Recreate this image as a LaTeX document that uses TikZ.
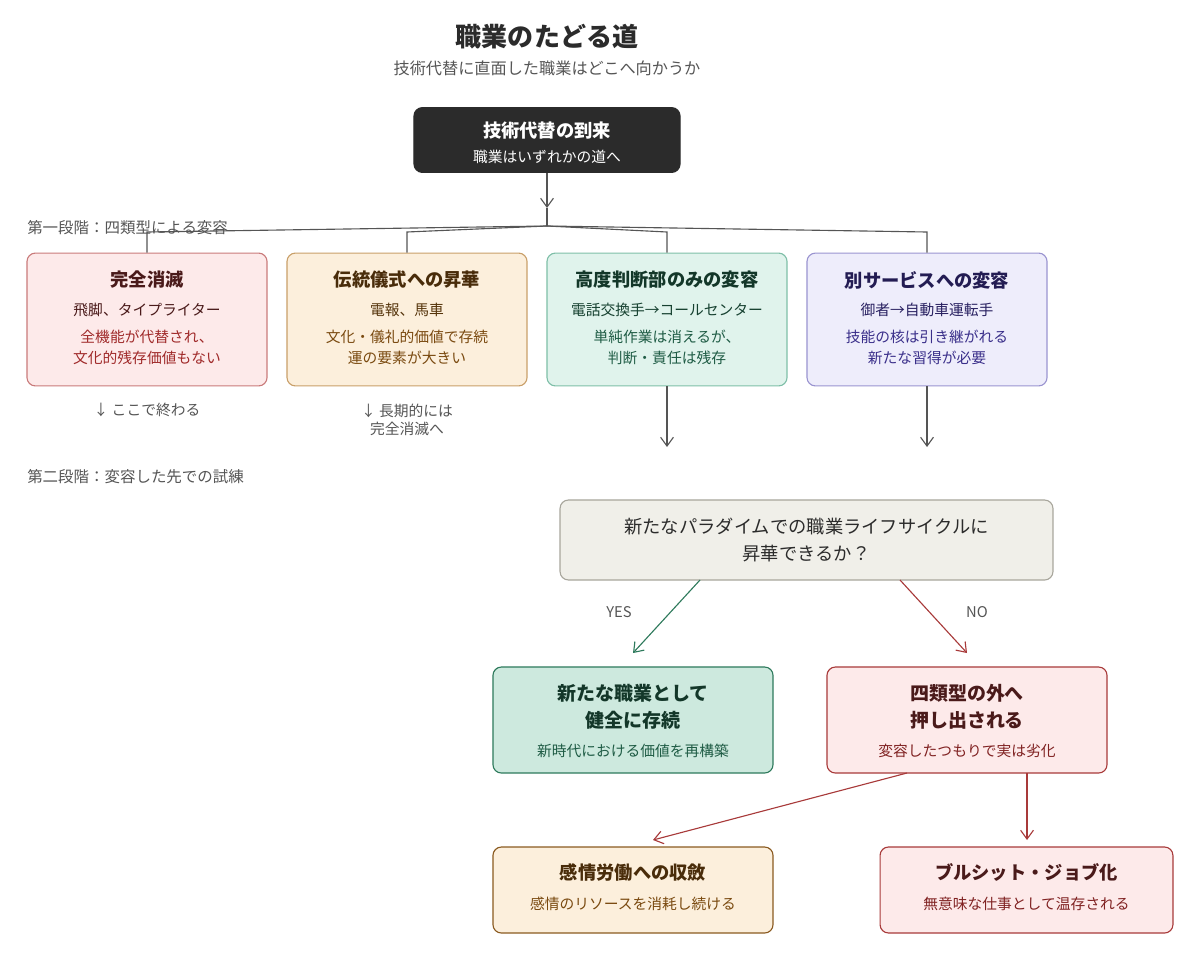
\documentclass[tikz,border=0pt]{standalone}
\usepackage{fontspec}
\setmainfont{Noto Sans CJK JP}
\usetikzlibrary{arrows.meta}
\tikzset{>={Straight Barb[length=2.2mm,width=3.2mm]}}
\definecolor{ink}{HTML}{2B2B2B}
\definecolor{muted}{HTML}{555555}
\definecolor{redfill}{HTML}{FDEAEA}
\definecolor{redline}{HTML}{C97B7B}
\definecolor{redtext}{HTML}{A02A2A}
\definecolor{redtitle}{HTML}{4A1A1A}
\definecolor{redstrong}{HTML}{A83A3A}
\definecolor{orangefill}{HTML}{FCEFDC}
\definecolor{orangeline}{HTML}{C9A06A}
\definecolor{orangetext}{HTML}{7A4A10}
\definecolor{orangestrong}{HTML}{8A5A20}
\definecolor{greenfill}{HTML}{E0F3EC}
\definecolor{greenline}{HTML}{7FBFA8}
\definecolor{greentext}{HTML}{1F5C45}
\definecolor{greenstrong}{HTML}{2E7A5C}
\definecolor{purplefill}{HTML}{EEEDFB}
\definecolor{purpleline}{HTML}{9A94D0}
\definecolor{purpletext}{HTML}{3A2F8A}
\definecolor{greyfill}{HTML}{F0EFE9}
\definecolor{greyline}{HTML}{A8A69C}
\tikzset{
  box/.style={draw, rounded corners=6pt, line width=0.8pt, inner sep=0pt},
  boxtitle/.style={font=\fontsize{13}{15}\selectfont\bfseries, align=center},
  boxtext/.style={font=\fontsize{10.5}{15}\selectfont, align=center},
  note/.style={font=\fontsize{10.5}{13}\selectfont, text=muted, align=center},
  flow/.style={->, line width=0.8pt, draw=muted}
}
\begin{document}
\begin{tikzpicture}[x=0.025cm, y=-0.025cm]
  \useasboundingbox (0,0) rectangle (1200,960);
  % title
  \node[font=\fontsize{18.5}{20}\selectfont\bfseries, text=ink] (title) at (547,37) {職業のたどる道};
  \node[font=\fontsize{11.5}{13}\selectfont, text=muted] (subtitle) at (547,68) {技術代替に直面した職業はどこへ向かうか};
  % top box
  \node[box, fill=ink, draw=ink, minimum width=6.65cm, minimum height=1.62cm] (start) at (547,140) {};
  \node[boxtitle, text=white] at (547,131) {技術代替の到来};
  \node[boxtext, text=white, font=\fontsize{10.5}{12}\selectfont] at (547,157) {職業はいずれかの道へ};
  % stage one
  \node[note, anchor=west, inner sep=0pt, font=\fontsize{11}{13}\selectfont] (stageone) at (27,228) {第一段階：四類型による変容};
  \coordinate (split) at (547,226);
  \draw[flow] (start.south) -- (547,208);
  \draw[muted, line width=0.8pt] (547,208) -- (split);
  % row one
  \node[box, fill=redfill, draw=redline, minimum width=6cm, minimum height=3.32cm] (vanish) at (147,319.5) {};
  \node[boxtitle, text=redtitle] at (147,280) {完全消滅};
  \node[boxtext, text=redtitle] at (147,310) {飛脚、タイプライター};
  \node[boxtext, text=redtext] at (147,347) {全機能が代替され、\\文化的残存価値もない};
  \node[box, fill=orangefill, draw=orangeline, minimum width=6cm, minimum height=3.32cm] (ritual) at (407,319.5) {};
  \node[boxtitle, text=orangetext!60!black] at (407,280) {伝統儀式への昇華};
  \node[boxtext, text=orangetext!70!black] at (407,310) {電報、馬車};
  \node[boxtext, text=orangetext] at (407,347) {文化・儀礼的価値で存続\\運の要素が大きい};
  \node[box, fill=greenfill, draw=greenline, minimum width=6cm, minimum height=3.32cm] (judge) at (667,319.5) {};
  \node[boxtitle, text=greentext!60!black] at (667,280) {高度判断部のみの変容};
  \node[boxtext, text=greentext!70!black] at (667,310) {電話交換手→コールセンター};
  \node[boxtext, text=greentext] at (667,347) {単純作業は消えるが、\\判断・責任は残存};
  \node[box, fill=purplefill, draw=purpleline, minimum width=6cm, minimum height=3.32cm] (service) at (927,319.5) {};
  \node[boxtitle, text=purpletext!60!black] at (927,280) {別サービスへの変容};
  \node[boxtext, text=purpletext!70!black] at (927,310) {御者→自動車運転手};
  \node[boxtext, text=purpletext] at (927,347) {技能の核は引き継がれる\\新たな習得が必要};
  \foreach \b/\x in {vanish/147, ritual/407, judge/667, service/927}
    \draw[muted, line width=0.8pt] (split) -- (\x,232) -- (\b.north);
  % notes
  \node[note] (endnote) at (147,410) {↓ ここで終わる};
  \node[note] (longnote) at (407,420) {↓ 長期的には\\完全消滅へ};
  \coordinate (judgeend) at (667,447);
  \coordinate (serviceend) at (927,447);
  \draw[flow] (judge.south) -- (judgeend);
  \draw[flow] (service.south) -- (serviceend);
  % stage two
  \node[note, anchor=west, inner sep=0pt, font=\fontsize{11}{13}\selectfont] (stagetwo) at (27,477) {第二段階：変容した先での試練};
  \node[box, fill=greyfill, draw=greyline, minimum width=12.32cm, minimum height=2cm] (question) at (806.5,540) {};
  \node[font=\fontsize{13}{19}\selectfont, align=center, text=ink] at (806.5,540) {新たなパラダイムでの職業ライフサイクルに\\昇華できるか？};
  \node[box, fill=greenfill!80!greenline, draw=greenstrong, minimum width=7cm, minimum height=2.65cm] (survive) at (633,720) {};
  \node[boxtitle, text=greentext!60!black, font=\fontsize{13.5}{19}\selectfont\bfseries] at (633,707) {新たな職業として\\健全に存続};
  \node[boxtext, text=greentext] at (633,751) {新時代における価値を再構築};
  \node[box, fill=redfill, draw=redstrong, minimum width=7cm, minimum height=2.65cm] (outside) at (967,720) {};
  \node[boxtitle, text=redtitle, font=\fontsize{13.5}{19}\selectfont\bfseries] at (967,707) {四類型の外へ\\押し出される};
  \node[boxtext, text=redtext!80!black] at (967,751) {変容したつもりで実は劣化};
  \coordinate (yesfrom) at (700,580);
  \coordinate (yesto) at (633,653);
  \coordinate (nofrom) at (900,580);
  \coordinate (noto) at (967,653);
  \draw[->, line width=0.8pt, draw=greenstrong] (yesfrom) -- (yesto);
  \draw[->, line width=0.8pt, draw=redstrong] (nofrom) -- (noto);
  \node[note] (yes) at (619,612) {YES};
  \node[note] (no) at (977,612) {NO};
  % bottom row
  \node[box, fill=orangefill, draw=orangestrong, minimum width=7cm, minimum height=2.15cm] (emotion) at (633,890) {};
  \node[boxtitle, text=orangetext!60!black] at (633,872) {感情労働への収斂};
  \node[boxtext, text=orangetext] at (633,904) {感情のリソースを消耗し続ける};
  \node[box, fill=redfill, draw=redstrong, minimum width=7.32cm, minimum height=2.15cm] (bullshit) at (1026.5,890) {};
  \node[boxtitle, text=redtitle] at (1026.5,872) {ブルシット・ジョブ化};
  \node[boxtext, text=redtext!80!black] at (1026.5,904) {無意味な仕事として温存される};
  \coordinate (outleft) at (907,773);
  \coordinate (outright) at (1027,773);
  \draw[->, line width=0.8pt, draw=redstrong] (outleft) -- (653,840);
  \draw[->, line width=0.8pt, draw=redstrong] (outright) -- (1027,840);
\end{tikzpicture}
\end{document}
